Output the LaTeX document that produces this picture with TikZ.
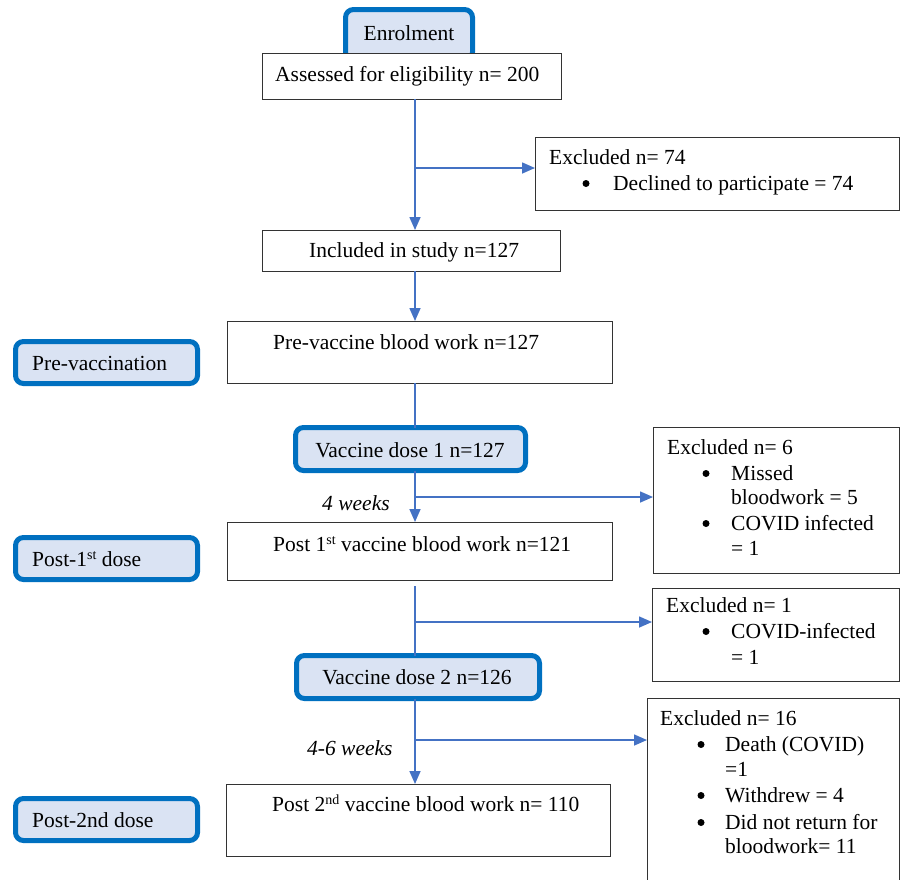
\documentclass[tikz,border=0pt]{standalone}
\usepackage{fontspec}
\setmainfont{Liberation Serif}
\usetikzlibrary{arrows.meta}
\definecolor{conblue}{HTML}{4472C4}
\definecolor{edgeblue}{HTML}{0070C0}
\definecolor{fillblue}{HTML}{DAE3F3}
\newcommand\sups[1]{\raisebox{7.5pt}{\fontsize{14}{14}\selectfont #1}}
\newcommand\boxat[6]{\node[#1, minimum width={#5-#3}, minimum height={#6-#4}] (#2) at ({(#3+#5)/2},{(#4+#6)/2}) {};}
\begin{document}
\begin{tikzpicture}[x=1pt,y=-1pt,
  plainbox/.style={draw=black!80, line width=1pt, fill=white, inner sep=0pt, outer sep=0pt},
  stagebox/.style={draw=edgeblue, line width=5pt, fill=fillblue, rounded corners=8pt, inner sep=0pt, outer sep=0pt},
  txt/.style={anchor=base west, inner sep=0pt, font=\fontsize{21.5}{26}\selectfont},
  ctxt/.style={anchor=base, inner sep=0pt, font=\fontsize{21.5}{26}\selectfont},
  itxt/.style={anchor=base west, inner sep=0pt, font=\fontsize{21.5}{26}\selectfont\itshape},
  bul/.style={circle, fill=black, inner sep=0pt, minimum size=7pt},
  conn/.style={draw=conblue, line width=1.6pt},
  arr/.style={conn, -{Triangle[length=13pt,width=11pt]}}
]
\useasboundingbox (0,0) rectangle (901,879);
% boxes
\boxat{stagebox}{enrol}{345.5}{9.5}{472.5}{60}
\node[ctxt] (tenrol) at (409,40) {Enrolment};
\boxat{plainbox}{assess}{262}{53}{561}{99}
\node[txt] (tassess) at (275,81.5) {Assessed for eligibility n= 200};
\boxat{plainbox}{ex1}{535}{137}{899}{210}
\node[txt] (tex1a) at (549,164.5) {Excluded n= 74};
\node[bul] (bex1a) at (586,183.5) {};
\node[txt] (tex1b) at (613,190.5) {Declined to participate = 74};
\boxat{plainbox}{incl}{262}{230}{560}{271}
\node[txt] (tincl) at (309,257.5) {Included in study n=127};
\boxat{plainbox}{prevac}{227}{321}{612}{383}
\node[txt] (tprevac) at (273,349.5) {Pre-vaccine blood work n=127};
\boxat{stagebox}{lab1}{15.5}{341.5}{197.5}{383.5}
\node[txt] (tlab1) at (32,370.5) {Pre-vaccination};
\boxat{stagebox}{vd1}{295.5}{427.5}{525.5}{470.5}
\node[ctxt] (tvd1) at (410,457.5) {Vaccine dose 1 n=127};
\node[itxt] (tw1) at (322,510.5) {4 weeks};
\boxat{plainbox}{ex6}{653}{427}{899}{573}
\node[txt] (tex6a) at (667,454.5) {Excluded n= 6};
\node[bul] (bex6a) at (706,473.5) {};
\node[txt] (tex6b) at (731,480.5) {Missed};
\node[txt] (tex6c) at (731,504.5) {bloodwork = 5};
\node[bul] (bex6b) at (706,523.5) {};
\node[txt] (tex6d) at (731,530.5) {COVID infected};
\node[txt] (tex6e) at (731,555.5) {= 1};
\boxat{plainbox}{post1}{227}{522}{612}{580}
\node[txt] (tpost1) at (273,551.5) {Post 1\sups{st} vaccine blood work n=121};
\boxat{stagebox}{lab2}{15.5}{537.5}{197.5}{579.5}
\node[txt] (tlab2) at (32,566.5) {Post-1\sups{st} dose};
\boxat{plainbox}{exb}{652}{588}{899}{681}
\node[txt] (texba) at (666,612.5) {Excluded n= 1};
\node[bul] (bexba) at (706,631.5) {};
\node[txt] (texbb) at (731,638.5) {COVID-infected};
\node[txt] (texbc) at (731,664.5) {= 1};
\boxat{stagebox}{vd2}{296.5}{655.5}{539.5}{698.5}
\node[ctxt] (tvd2) at (417,684.5) {Vaccine dose 2 n=126};
\node[itxt] (tw2) at (307,755.5) {4-6 weeks};
\boxat{plainbox}{ex16}{647}{698}{899}{905}
\node[txt] (tex16a) at (660,725.5) {Excluded n= 16};
\node[bul] (bex16a) at (701,744.5) {};
\node[txt] (tex16b) at (725,751.5) {Death (COVID)};
\node[txt] (tex16c) at (725,776.5) {=1};
\node[bul] (bex16b) at (701,795.5) {};
\node[txt] (tex16d) at (725,802.5) {Withdrew = 4};
\node[bul] (bex16c) at (701,822.5) {};
\node[txt] (tex16e) at (725,829.5) {Did not return for};
\node[txt] (tex16f) at (725,853.5) {bloodwork= 11};
\boxat{plainbox}{post2}{226}{784}{610}{856}
\node[txt] (tpost2) at (272,811.5) {Post 2\sups{nd} vaccine blood work n= 110};
\boxat{stagebox}{lab3}{15.5}{798.5}{197.5}{840.5}
\node[txt] (tlab3) at (32,827.5) {Post-2nd dose};
% connectors
\coordinate (tr) at (415,0);
\coordinate (b1) at (415,168);
\coordinate (b2) at (415,497);
\coordinate (b3) at (415,622);
\coordinate (b4) at (415,740);
\draw[arr] (assess.south -| tr) -- (incl.north -| tr);
\draw[arr] (b1) -- (b1 -| ex1.west);
\draw[arr] (incl.south -| tr) -- (prevac.north -| tr);
\draw[conn] (prevac.south -| tr) -- (vd1.north -| tr);
\draw[arr] (vd1.south -| tr) -- (post1.north -| tr);
\draw[arr] (b2) -- (b2 -| ex6.west);
\draw[conn, shorten <=6pt] (post1.south -| tr) -- (vd2.north -| tr);
\draw[arr] (b3) -- (b3 -| exb.west);
\draw[arr] (vd2.south -| tr) -- (post2.north -| tr);
\draw[arr] (b4) -- (b4 -| ex16.west);
\end{tikzpicture}
\end{document}
